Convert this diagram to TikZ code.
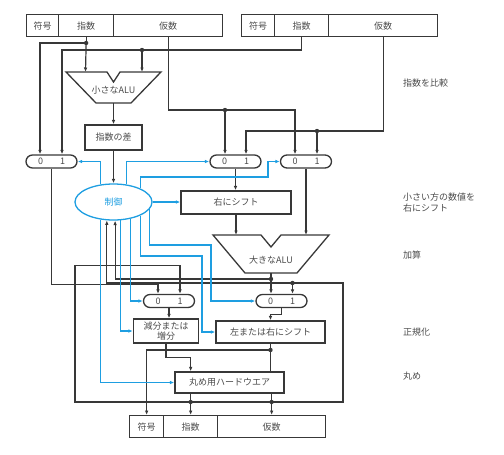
\documentclass[tikz,border=0pt]{standalone}
\usepackage{fontspec}
\setmainfont{Noto Sans CJK JP}
\usetikzlibrary{arrows.meta,shapes.geometric,calc}
\definecolor{dk}{HTML}{383838}
\definecolor{bl}{RGB}{30,158,225}
\definecolor{tx}{HTML}{4A4A4A}
\newcommand{\myfs}{\fontsize{9}{11}\selectfont}
\tikzset{
 blk/.style={draw=dk, line width=1.2pt},
 blu/.style={draw=bl, line width=1.2pt},
 arr/.style={-{Latex[length=4.5pt,width=3.6pt]}},
 darr/.style={{Latex[length=4.5pt,width=3.6pt]}-{Latex[length=4.5pt,width=3.6pt]}},
 field/.style={draw=dk, line width=1.3pt, minimum height=22pt, inner sep=0pt, anchor=north west, text=tx, font=\myfs},
 boxn/.style={draw=dk, line width=1.3pt, inner sep=0pt, text=tx, font=\myfs, align=center},
 mux/.style={draw=dk, line width=1.3pt, rounded corners=6.5pt, minimum width=51pt, minimum height=13pt, inner sep=0pt, text=tx, font=\myfs},
 lab/.style={anchor=west, text=tx, font=\myfs, align=left, inner sep=0pt},
 alu/.style={draw=dk, line width=1.3pt, line join=miter},
}
\begin{document}
\begin{tikzpicture}[x=1pt,y=-1pt]
\useasboundingbox (0,0) rectangle (504,455);
% registers
\node[field,minimum width=32pt] (tls) at (26,14) {符号};
\node[field,minimum width=55pt] (tle) at (58,14) {指数};
\node[field,minimum width=109pt] (tlm) at (113,14) {仮数};
\node[field,minimum width=33pt] (trs) at (241,14) {符号};
\node[field,minimum width=54pt] (tre) at (274,14) {指数};
\node[field,minimum width=109pt] (trm) at (328,14) {仮数};
\node[field,minimum width=34pt] (bs) at (129,415) {符号};
\node[field,minimum width=54pt] (be) at (163,415) {指数};
\node[field,minimum width=108pt] (bm) at (217,415) {仮数};
% muxes
\node[mux] (lmux) at (51.5,161.5) {\makebox[27pt]{0\hfill1}};
\node[mux] (mmux) at (235.5,161.5) {\makebox[27pt]{0\hfill1}};
\node[mux] (rmux) at (306,161.5) {\makebox[27pt]{0\hfill1}};
\node[mux] (llm) at (169,301) {\makebox[27pt]{0\hfill1}};
\node[mux] (lrm) at (281.5,301) {\makebox[27pt]{0\hfill1}};
\coordinate (lm0) at ($(lmux.north)+(-11.5,0)$);
\coordinate (lm1) at ($(lmux.north)+(10.5,0)$);
\coordinate (mm0) at ($(mmux.north)+(-10.5,0)$);
\coordinate (mm1) at ($(mmux.north)+(10.5,0)$);
\coordinate (rm0) at ($(rmux.north)+(-11,0)$);
\coordinate (rm1) at ($(rmux.north)+(11,0)$);
\coordinate (ll0) at ($(llm.north)+(-11,0)$);
\coordinate (ll1) at ($(llm.north)+(11,0)$);
% control
\node[ellipse, draw=bl, line width=1.3pt, minimum width=77pt, minimum height=36pt, inner sep=0pt, text=bl, font=\myfs] (ctrl) at (113.5,202) {制御};
% boxes
\node[boxn, minimum width=57pt, minimum height=25pt] (diff) at (113.5,137.5) {指数の差};
\node[boxn, minimum width=110pt, minimum height=23pt] (rsh) at (236,202.5) {右にシフト};
\node[boxn, minimum width=65pt, minimum height=24pt, font=\fontsize{9}{10}\selectfont] (inc) at (166,331) {減分または\\増分};
\node[boxn, minimum width=109pt, minimum height=22pt] (lsh) at (270.5,332) {左または右にシフト};
\node[boxn, minimum width=109pt, minimum height=21pt] (rnd) at (229.5,382.5) {丸め用ハードウエア};
% small ALU
\draw[alu] (66,72) -- (107,72) -- (113.5,82) -- (120,72) -- (161,72) -- (131,103) -- (96,103) -- cycle;
\node[text=tx, font=\myfs, inner sep=0pt] (salu) at (113.5,90) {小さなALU};
\coordinate (sa1) at (85.5,72);
\coordinate (sa2) at (142,72);
\coordinate (saout) at (113.5,103);
% big ALU
\draw[alu] (213,235) -- (261,235) -- (271,247) -- (281,235) -- (329,235) -- (297,273) -- (245,273) -- cycle;
\node[text=tx, font=\myfs, inner sep=0pt] (balu) at (271,260) {大きなALU};
\coordinate (ba1) at (236,235);
\coordinate (ba2) at (306,235);
\coordinate (baout) at (271,273);
% right labels
\node[lab] (l1) at (403,83) {指数を比較};
\node[lab] (l2) at (403,202.5) {小さい方の数値を\\右にシフト};
\node[lab] (l3) at (403,255) {加算};
\node[lab] (l4) at (403,332) {正規化};
\node[lab] (l5) at (403,376) {丸め};
% dots
\coordinate (d1) at (tle.south |- 0,43);
\coordinate (d2) at (142,50);
\coordinate (d3) at (mm0 |- 0,110);
\coordinate (d4) at (rm1 |- 0,131);
\coordinate (ad) at (271,279);
\coordinate (d6) at (292.5,283);
\coordinate (d7) at (lsh.south |- 0,350);
\coordinate (d8) at (be.north |- 0,402);
\coordinate (d9) at (bm.north |- 0,402);
% exponent paths
\draw[blk] (tle.south) -- (d1);
\draw[blk,arr] (d1) -| (lm0);
\draw[blk,arr] (d1) -- (sa1);
\draw[blk,arr] (tre.south) |- (d2) -| (lm1);
\draw[blk,arr] (d2) -- (sa2);
% mantissa paths
\draw[blk,arr] (tlm.south) |- (d3) -| (rm0);
\draw[blk,arr] (d3) -- (mm0);
\draw[blk,arr] (trm.south) |- (d4) -| (mm1);
\draw[blk,arr] (d4) -- (rm1);
% small ALU chain
\draw[blk,arr] (saout) -- (diff.north);
\draw[blk,arr] (diff.south) -- (ctrl.north);
% middle / right mux to big ALU
\draw[blk,arr] (mmux.south) -- (mmux.south |- rsh.north);
\draw[blk,arr] (rsh.south) -- (ba1);
\draw[blk,arr] (rmux.south) -- (ba2);
% big ALU output
\draw[blk] (baout) -- (ad);
\draw[blk,arr] (ad) -- (ad |- lrm.north);
\draw[blk,arr] (ad) -| (ctrl.-85.2);
% left mux output
\draw[blk,arr] (lmux.south) |- ($(ll0)+(0,-9)$) -- (ll0);
% big loop
\draw[blk,darr] (ctrl.-110.1) |- (343,283) |- (75,402) |- ($(ll1)+(0,-28)$) -- (ll1);
\draw[blk,arr] (d6) -- (d6 |- lrm.north);
% lower muxes to boxes
\draw[blk,arr] (llm.south) -- (llm.south |- inc.north);
\draw[blk,arr] (lrm.south) -- ++(0,6) -| (lsh.north);
\draw[blk,arr] (inc.south) |- ($(rnd.north -| be.north)+(0,-14)$) -- (rnd.north -| be.north);
\draw[blk] (lsh.south) -- (d7) -- (d7 |- rnd.north);
\draw[blk,arr] (d7) -| (bs.north);
\draw[blk] (rnd.south -| d8) -- (d8);
\draw[blk,arr] (d8) -- (be.north);
\draw[blk] (rnd.south -| d9) -- (d9);
\draw[blk,arr] (d9) -- (bm.north);
% blue control lines
\draw[blu,arr] (ctrl.126.3) |- (lmux.east);
\draw[blu,arr] (ctrl.53.7) |- (mmux.west);
\draw[blu,arr] (ctrl.27.9) |- (268,177) |- (rmux.west);
\draw[blu,arr] (ctrl.east) -- (ctrl.east -| rsh.west);
\draw[blu,arr] (ctrl.-126.3) |- (rnd.west);
\draw[blu,arr] (ctrl.-69.9) |- (inc.west);
\draw[blu,arr] (ctrl.-44.6) |- (llm.west);
\draw[blu,arr] (ctrl.-27.9) |- (202,256) |- (lsh.west);
\draw[blu,arr] (ctrl.-11.1) |- (211,245) |- (lrm.west);
% junction dots
\foreach \p in {d1,d2,d3,d4,ad,d6,d7,d8,d9} \fill[dk] (\p) circle (2.2);
\end{tikzpicture}
\end{document}
